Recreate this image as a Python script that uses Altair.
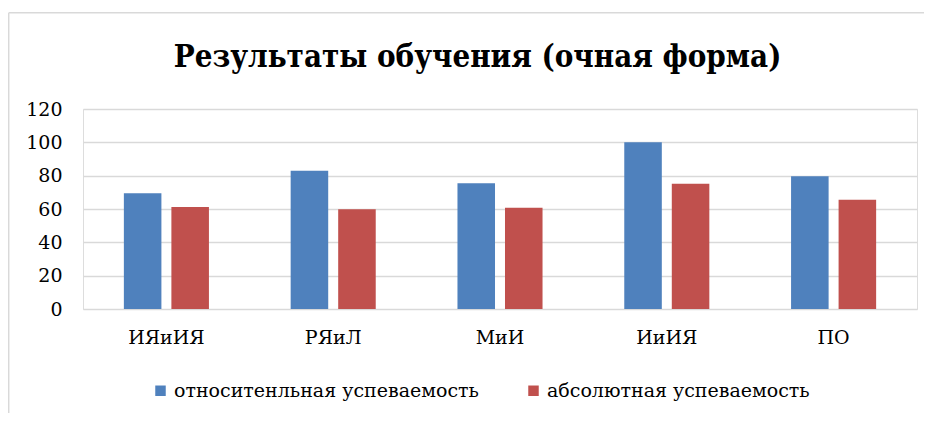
import altair as alt
import pandas as pd

categories = ["ИЯиИЯ", "РЯиЛ", "МиИ", "ИиИЯ", "ПО"]
series_names = ["относитенльная успеваемость", "абсолютная успеваемость"]
relative_vals = [69.4, 82.9, 75.5, 100.0, 79.7]
absolute_vals = [61.2, 59.8, 60.8, 75.1, 65.5]
y_ticks = [0, 20, 40, 60, 80, 100, 120]
colors = ["#4f81bd", "#c0504d"]
title_text = ["Результаты обучения (очная форма)"]

rows = []
for c, v in zip(categories, relative_vals):
    rows.append({"cat": c, "series": series_names[0], "value": v})
for c, v in zip(categories, absolute_vals):
    rows.append({"cat": c, "series": series_names[1], "value": v})
df = pd.DataFrame(rows)

FONT = "DejaVu Serif"
TITLE_FONT = "DejaVu Serif Condensed, DejaVu Serif"

bars = alt.Chart(df).mark_bar().encode(
    x=alt.X("cat:N", sort=categories, title=None,
            scale=alt.Scale(paddingInner=0.49, paddingOuter=0.245),
            axis=alt.Axis(labelAngle=0, domain=False, ticks=False, labelPadding=19,
                          labelFontSize=19, labelFont=FONT, labelColor="#000000", grid=False)),
    xOffset=alt.XOffset("series:N", sort=series_names,
                        scale=alt.Scale(paddingInner=0.21, paddingOuter=0)),
    y=alt.Y("value:Q", title=None,
            scale=alt.Scale(domain=[0, 120], nice=False),
            axis=alt.Axis(values=y_ticks, domain=False, ticks=False, labelPadding=21,
                          labelFontSize=19, labelFont=FONT, labelColor="#000000",
                          grid=True, gridColor="#d9d9d9", gridWidth=1.5)),
    color=alt.Color("series:N", sort=series_names,
                    scale=alt.Scale(domain=series_names, range=colors),
                    legend=alt.Legend(orient="none", legendX=68, legendY=272,
                                      direction="horizontal", title=None,
                                      symbolType="square", symbolSize=110,
                                      symbolStrokeWidth=0, labelFont=FONT,
                                      labelFontSize=19, labelColor="#000000",
                                      labelLimit=0, labelOffset=4, columnPadding=45)),
)

frame_df = pd.DataFrame({"k": [0]})
left_border = alt.Chart(frame_df).mark_rule(color="#d9d9d9", strokeWidth=1.5).encode(
    x=alt.value(-74.3), y=alt.value(-96.2), y2=alt.value(320)
)
top_border = alt.Chart(frame_df).mark_rule(color="#d9d9d9", strokeWidth=1.5).encode(
    x=alt.value(-74.3), x2=alt.value(860), y=alt.value(-96.2)
)
title = alt.Chart(pd.DataFrame({"t": title_text})).mark_text(
    font=TITLE_FONT, fontSize=31, fontWeight="bold", color="#000000",
    align="center", baseline="alphabetic"
).encode(text="t:N", x=alt.value(394.5), y=alt.value(-42))

chart = alt.layer(left_border, top_border, title, bars).properties(
    width=834, height=200,
    autosize=alt.AutoSizeParams(type="none"),
    padding={"left": 75, "top": 101, "right": 7, "bottom": 104},
).configure_view(stroke=None).configure(background="#ffffff")

chart.save("out.html", embed_options={"renderer": "svg", "actions": False})
